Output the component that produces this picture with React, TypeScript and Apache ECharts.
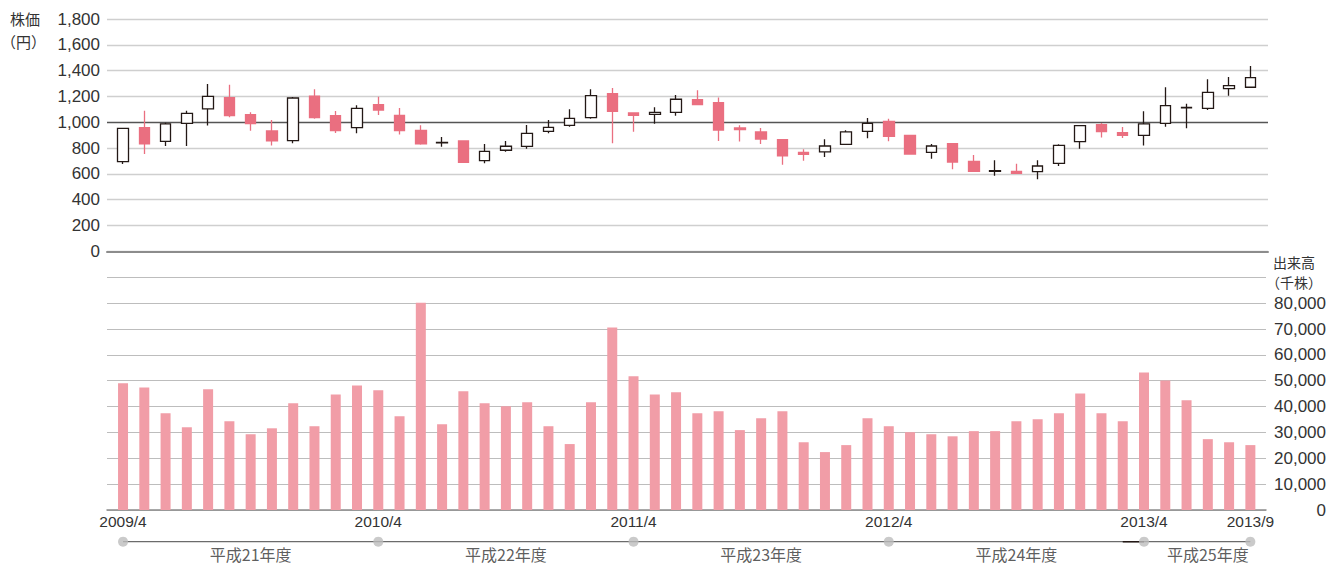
import React, { useEffect, useRef } from "react";
import * as echarts from "echarts";

const months = [
  "2009/4", "2009/5", "2009/6", "2009/7", "2009/8", "2009/9", "2009/10", "2009/11", "2009/12",
  "2010/1", "2010/2", "2010/3", "2010/4", "2010/5", "2010/6", "2010/7", "2010/8", "2010/9", "2010/10", "2010/11", "2010/12",
  "2011/1", "2011/2", "2011/3", "2011/4", "2011/5", "2011/6", "2011/7", "2011/8", "2011/9", "2011/10", "2011/11", "2011/12",
  "2012/1", "2012/2", "2012/3", "2012/4", "2012/5", "2012/6", "2012/7", "2012/8", "2012/9", "2012/10", "2012/11", "2012/12",
  "2013/1", "2013/2", "2013/3", "2013/4", "2013/5", "2013/6", "2013/7", "2013/8", "2013/9",
];

const opens = [
  695, 958, 852, 992, 1103, 1191, 1059, 932, 857, 1203, 1051, 958,
  1136, 1054, 937, 840, 855, 702, 783, 813, 930, 976, 1036, 1222,
  1072, 1061, 1077, 1175, 1152, 956, 925, 865, 767, 770, 829, 930,
  1007, 899, 767, 834, 697, 620, 620, 617, 682, 850, 981, 919,
  899, 992, 1111, 1108, 1260, 1271,
];
const closes = [
  953, 832, 987, 1069, 1201, 1051, 989, 855, 1188, 1036, 935, 1108,
  1095, 935, 832, 844, 690, 775, 814, 914, 961, 1030, 1206, 1085,
  1054, 1077, 1178, 1136, 940, 943, 870, 739, 752, 816, 925, 992,
  891, 754, 816, 692, 620, 624, 604, 661, 821, 974, 927, 899,
  987, 1129, 1115, 1232, 1284, 1346,
];
const lows = [
  677, 754, 816, 816, 974, 1038, 935, 819, 837, 1028, 917, 914,
  1056, 906, 826, 811, 684, 682, 772, 795, 914, 966, 1028, 837,
  927, 989, 1051, 1136, 855, 850, 832, 671, 702, 731, 824, 876,
  852, 749, 718, 635, 615, 586, 599, 558, 661, 795, 881, 878,
  819, 966, 953, 1095, 1206, 1265,
];
const highs = [
  953, 1090, 997, 1090, 1296, 1291, 1077, 1017, 1196, 1255, 1087, 1131,
  1198, 1110, 976, 886, 855, 832, 855, 979, 1017, 1100, 1255, 1265,
  1072, 1116, 1211, 1247, 1191, 976, 956, 870, 790, 868, 937, 1033,
  1028, 899, 832, 839, 746, 705, 679, 705, 829, 974, 994, 963,
  1085, 1271, 1144, 1333, 1351, 1436,
];
const volumes = [
  49000, 47400, 37400, 32000, 46700, 34300, 29300, 31600, 41300, 32400, 44700, 48200,
  46300, 36300, 80200, 33200, 45900, 41300, 40100, 41700, 32400, 25500, 41700, 70600,
  51700, 44700, 45500, 37400, 38200, 30900, 35500, 38200, 26200, 22400, 25100, 35500,
  32400, 30100, 29300, 28500, 30500, 30500, 34300, 35100, 37400, 45100, 37400, 34300,
  53200, 50100, 42400, 27400, 26200, 25100,
];
const fiscalLabels = ["平成21年度", "平成22年度", "平成23年度", "平成24年度", "平成25年度"];
const priceTitle = ["株価", "（円）"];
const volumeTitle = ["出来高", "（千株）"];

const FONT = "'Liberation Sans', Arial, 'Noto Sans CJK JP', sans-serif";
const JFONT = "'Noto Sans CJK JP', 'Liberation Sans', sans-serif";

export default function App() {
  const ref = useRef<HTMLDivElement>(null);

  useEffect(() => {
    if (!ref.current) return;
    const chart = echarts.init(ref.current, undefined, { renderer: "svg" });

    const boundaries: number[] = [];
    months.forEach((m, i) => {
      if (m.endsWith("/4") || i === months.length - 1) boundaries.push(i);
    });
    const centers = fiscalLabels.map((_, i) => (boundaries[i] + boundaries[i + 1]) / 2);

    const priceLineColors = Array.from({ length: 10 }, (_, i) => (i === 5 ? "#555555" : "#cfcfcf"));

    const fmt = (v: number) => v.toLocaleString("en-US");

    const option: any = {
      animation: false,
      grid: [
        { left: 107, top: 19, width: 1161, height: 232.3 },
        { left: 112.4, top: 19, width: 1148.6, height: 232.3 },
        { left: 107, top: 277.3, width: 1161, height: 232.7 },
        { left: 112.4, top: 277.3, width: 1148.6, height: 232.7 },
        { left: 112.4, top: 518.4, width: 1148.6, height: 46.6 },
      ],
      xAxis: [
        {
          gridIndex: 0, type: "category", data: months,
          axisLine: { show: true, lineStyle: { color: "#8c8c8c", width: 2 } },
          axisTick: { show: false }, axisLabel: { show: false }, splitLine: { show: false },
        },
        { gridIndex: 1, type: "category", data: months, show: false },
        {
          gridIndex: 2, type: "category", data: months,
          axisLine: { show: true, lineStyle: { color: "#8c8c8c", width: 1.5 } },
          axisTick: { show: false }, axisLabel: { show: false }, splitLine: { show: false },
        },
        {
          gridIndex: 3, type: "category", data: months,
          axisLine: { show: false }, axisTick: { show: false }, splitLine: { show: false },
          axisLabel: {
            interval: (i: number) => boundaries.indexOf(i) >= 0,
            color: "#333", fontSize: 15.5, margin: 4, fontFamily: FONT,
          },
        },
        { gridIndex: 4, type: "category", data: months, show: false },
      ],
      yAxis: [
        {
          gridIndex: 0, type: "value", min: 0, max: 1800, interval: 200,
          axisLine: { show: false }, axisTick: { show: false },
          axisLabel: { formatter: fmt, fontSize: 17, color: "#333", margin: 7, fontFamily: FONT },
          splitLine: { show: true, lineStyle: { color: priceLineColors, width: 1.4 } },
        },
        { gridIndex: 1, type: "value", min: 0, max: 1800, show: false },
        {
          gridIndex: 2, type: "value", min: 0, max: 90000, interval: 10000, position: "right",
          axisLine: { show: false }, axisTick: { show: false },
          axisLabel: {
            formatter: (v: number) => (v === 90000 ? "" : fmt(v)),
            fontSize: 17, color: "#333", margin: 60, align: "right", fontFamily: FONT,
          },
          splitLine: { show: true, lineStyle: { color: "#bdbdbd", width: 1 } },
        },
        { gridIndex: 3, type: "value", min: 0, max: 90000, show: false },
        { gridIndex: 4, type: "value", min: 0, max: 1, show: false },
      ],
      series: [
        {
          type: "candlestick", xAxisIndex: 1, yAxisIndex: 1,
          barWidth: 11,
          data: months.map((_, i) => [opens[i], closes[i], lows[i], highs[i]]),
          itemStyle: {
            color: "#ffffff", color0: "#EA6F80",
            borderColor: "#231815", borderColor0: "#EA6F80",
            borderWidth: 1.3,
          },
        },
        {
          type: "bar", xAxisIndex: 3, yAxisIndex: 3, barWidth: 10,
          data: volumes, itemStyle: { color: "#F19DA7" },
        },
        {
          type: "line", xAxisIndex: 4, yAxisIndex: 4, symbol: "none",
          data: [[boundaries[0], 0.5], [boundaries[boundaries.length - 1], 0.5]],
          lineStyle: { color: "#6b6b6b", width: 1.2 }, z: 2,
        },
        {
          type: "line", xAxisIndex: 4, yAxisIndex: 4, symbol: "none",
          data: [[46.65, 0.5], [47.7, 0.5]],
          lineStyle: { color: "#231815", width: 1.5 }, z: 3,
        },
        {
          type: "scatter", xAxisIndex: 4, yAxisIndex: 4, symbolSize: 10,
          data: boundaries.map((b) => [b, 0.5]),
          itemStyle: { color: "#bdbdbd" }, z: 4,
        },
        {
          type: "scatter", xAxisIndex: 4, yAxisIndex: 4, symbolSize: 1, clip: false,
          data: centers.map((c, i) => ({ value: [c, 0.5], name: fiscalLabels[i] })),
          itemStyle: { color: "rgba(0,0,0,0)" },
          label: {
            show: true, position: "inside", offset: [0, 12],
            formatter: (p: any) => p.name,
            fontSize: 16, lineHeight: 16, color: "#333", fontFamily: JFONT,
          },
        },
      ],
      graphic: [
        { type: "text", left: 10, top: 11, style: { text: priceTitle[0], fontSize: 15, fill: "#333", fontFamily: JFONT } },
        { type: "text", left: 1, top: 34, style: { text: priceTitle[1], fontSize: 15, fill: "#333", fontFamily: JFONT } },
        { type: "text", left: 1273, top: 255, style: { text: volumeTitle[0], fontSize: 14, fill: "#333", fontFamily: JFONT } },
        { type: "text", left: 1266, top: 275, style: { text: volumeTitle[1], fontSize: 14, fill: "#333", fontFamily: JFONT } },
      ],
    };

    chart.setOption(option);
    return () => chart.dispose();
  }, []);

  return (
    <div
      ref={ref}
      style={{ position: "absolute", left: 0, top: 0, width: 1329, height: 565, background: "#fff" }}
    />
  );
}
